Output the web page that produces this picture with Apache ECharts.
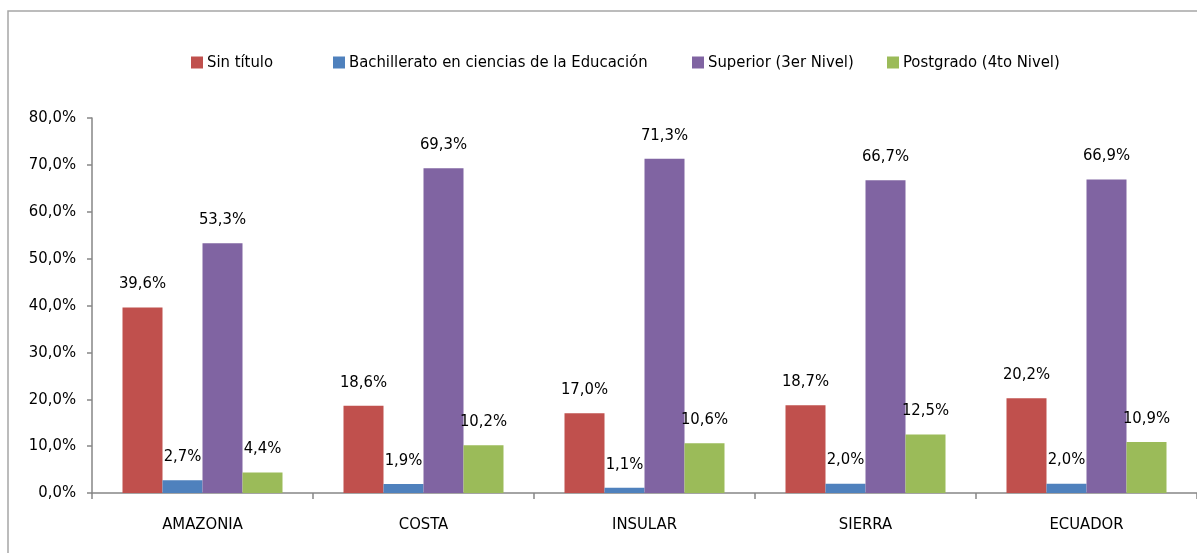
<!DOCTYPE html>
<html>
<head>
<meta charset="utf-8">
<script src="https://cdn.jsdelivr.net/npm/echarts@6/dist/echarts.min.js"></script>
<style>
  html, body { margin: 0; padding: 0; background: #fff; }
  #chart { width: 1197px; height: 553px; }
</style>
</head>
<body>
<div id="chart"></div>
<script>
// regiones
const categories = ['AMAZONIA', 'COSTA', 'INSULAR', 'SIERRA', 'ECUADOR'];
const seriesNames = ['Sin título', 'Bachillerato en ciencias de la Educación', 'Superior (3er Nivel)', 'Postgrado (4to Nivel)'];
const sinTitulo = [39.6, 18.6, 17.0, 18.7, 20.2];
const bachillerato = [2.7, 1.9, 1.1, 2.0, 2.0];
const superior = [53.3, 69.3, 71.3, 66.7, 66.9];
const postgrado = [4.4, 10.2, 10.6, 12.5, 10.9];
const yTicks = [0, 10, 20, 30, 40, 50, 60, 70, 80];

const colors = ['#C0504D', '#4F81BD', '#8064A2', '#9BBB59'];
const font = "'DejaVu Sans Condensed', sans-serif";
const fs = 16.5;
const pct = v => v.toFixed(1).replace('.', ',') + '%';

const chart = echarts.init(document.getElementById('chart'));

// una leyenda por serie, para fijar la posicion de cada item
const legendLeft = [191, 333, 692, 887];
const legends = seriesNames.map((name, i) => ({
  data: [name],
  left: legendLeft[i],
  top: 54,
  padding: 0,
  itemWidth: 12,
  itemHeight: 12,
  itemGap: 0,
  icon: 'rect',
  textStyle: { fontFamily: font, fontSize: fs, color: '#000', padding: [0, 0, 0, -1] }
}));

const values = [sinTitulo, bachillerato, superior, postgrado];

const option = {
  animation: false,
  textStyle: { fontFamily: font },
  graphic: [{
    type: 'rect',
    shape: { x: 8, y: 11, width: 1300, height: 700 },
    style: { fill: 'none', stroke: '#A6A6A6', lineWidth: 1.5 },
    silent: true
  }],
  legend: legends,
  grid: { left: 92, top: 118, width: 1106, height: 375, containLabel: false },
  xAxis: {
    type: 'category',
    data: categories,
    axisLine: { lineStyle: { color: '#868686', width: 1.5 } },
    axisTick: { show: true, length: 6, alignWithLabel: false, lineStyle: { color: '#868686', width: 1.5 } },
    axisLabel: { fontFamily: font, fontSize: fs, color: '#000', margin: 23 }
  },
  yAxis: {
    type: 'value',
    min: yTicks[0],
    max: yTicks[yTicks.length - 1],
    interval: 10,
    splitLine: { show: false },
    axisLine: { show: true, lineStyle: { color: '#868686', width: 1.5 } },
    axisTick: { show: true, length: 5, lineStyle: { color: '#868686', width: 1.5 } },
    axisLabel: { fontFamily: font, fontSize: fs, color: '#000', margin: 16, formatter: v => pct(v) }
  },
  series: seriesNames.map((name, i) => ({
    name: name,
    type: 'bar',
    data: values[i],
    barWidth: 40,
    barGap: '0%',
    itemStyle: { color: colors[i] },
    label: {
      show: true,
      position: 'top',
      distance: 15,
      fontFamily: font,
      fontSize: fs,
      color: '#000',
      formatter: p => pct(p.value)
    }
  }))
};

chart.setOption(option);
</script>
</body>
</html>
